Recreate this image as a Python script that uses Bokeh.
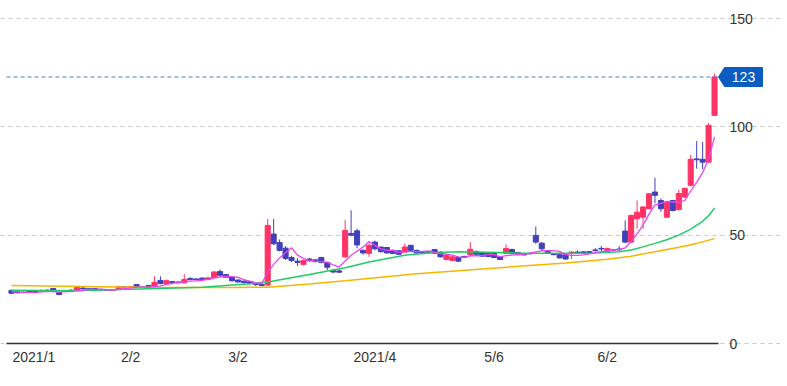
from bokeh.plotting import figure
from bokeh.models import (ColumnDataSource, FixedTicker, Range1d, Label,
                          PolyAnnotation)
from bokeh.embed import file_html
from bokeh.resources import INLINE

# ---------------- data ----------------
opens = [24.5, 23.8, 23.5, 24.2, 24.0, 24.4, 24.6, 25.4, 23.5, 24.3,
         24.6, 24.5, 25.6, 25.3, 25.4, 25.0, 24.8, 24.6, 24.9, 26.2,
         26.0, 27.2, 26.2, 26.8, 26.3, 29.1, 27.7, 28.6, 28.4, 28.0,
         30.0, 29.8, 30.2, 29.5, 30.4, 33.2, 31.8, 30.7, 29.3, 28.8,
         28.5, 27.8, 27.3, 27.0, 50.5, 46.6, 44.0, 39.7, 38.0, 36.5,
         39.0, 38.6, 39.7, 37.4, 33.6, 33.5, 40.0, 50.8, 52.0, 43.0,
         41.6, 46.8, 44.5, 44.3, 43.0, 42.8, 42.2, 45.3, 43.0, 42.2,
         42.4, 43.4, 42.2, 38.8, 38.3, 39.7, 40.2, 41.0, 42.5, 42.0,
         41.5, 41.5, 40.0, 41.6, 43.4, 42.0, 41.3, 41.6, 49.9, 46.3,
         42.5, 41.2, 41.0, 41.0, 41.8, 42.2, 42.3, 42.4, 43.2, 43.9,
         42.0, 43.2, 43.6, 51.9, 46.8, 57.6, 58.3, 62.2, 69.9, 66.0,
         58.3, 66.0, 61.8, 67.6, 73.0, 85.2, 85.0, 83.7, 105.3]
highs = [24.8, 24.0, 24.0, 24.5, 24.3, 25.0, 24.9, 25.6, 24.0, 24.7,
         25.0, 26.2, 26.0, 25.5, 25.6, 25.2, 25.0, 25.0, 26.5, 26.4,
         26.4, 27.4, 26.4, 27.0, 31.0, 31.0, 29.5, 28.8, 28.6, 32.0,
         30.6, 30.0, 30.4, 30.5, 33.5, 34.2, 32.0, 31.0, 29.6, 29.0,
         28.8, 28.0, 27.6, 57.5, 57.5, 48.0, 45.0, 40.5, 39.5, 38.8,
         39.5, 39.0, 40.0, 37.8, 34.5, 34.3, 57.0, 61.5, 53.0, 43.5,
         46.0, 47.5, 44.8, 44.6, 43.3, 43.0, 46.0, 45.6, 43.3, 42.5,
         42.7, 43.6, 42.5, 41.0, 40.4, 40.0, 40.5, 46.8, 42.8, 42.3,
         41.8, 41.7, 40.3, 45.7, 43.8, 42.4, 41.6, 41.9, 54.0, 46.8,
         42.8, 41.5, 41.3, 41.3, 42.5, 43.0, 42.6, 42.7, 44.0, 45.0,
         44.2, 43.5, 45.0, 56.8, 59.5, 66.0, 63.5, 69.5, 76.5, 67.0,
         65.8, 66.3, 71.0, 72.0, 87.0, 93.4, 93.0, 101.8, 124.5]
lows = [23.0, 23.1, 23.2, 23.5, 23.4, 23.8, 24.0, 23.8, 22.3, 24.0,
        24.0, 24.3, 24.8, 24.8, 24.2, 24.4, 24.3, 24.4, 24.8, 25.8,
        25.8, 25.7, 25.8, 25.2, 26.0, 27.3, 27.4, 27.8, 27.8, 27.8,
        29.2, 29.2, 29.2, 29.3, 30.2, 31.0, 30.4, 28.5, 28.0, 27.8,
        27.3, 26.5, 26.3, 26.5, 45.5, 42.5, 38.5, 37.5, 35.8, 36.0,
        37.6, 37.4, 37.0, 33.8, 32.5, 32.5, 39.5, 49.5, 44.0, 41.0,
        40.0, 43.0, 42.0, 41.5, 41.2, 40.8, 42.0, 42.6, 41.5, 41.7,
        41.7, 41.3, 39.7, 38.4, 38.0, 37.6, 39.5, 40.5, 40.8, 40.0,
        39.8, 39.4, 38.5, 41.3, 41.2, 40.7, 40.6, 41.1, 46.0, 43.0,
        41.3, 40.8, 39.2, 38.7, 39.0, 41.5, 41.5, 41.5, 42.5, 42.5,
        41.8, 42.8, 42.2, 46.3, 46.5, 53.0, 53.0, 62.0, 64.8, 60.8,
        58.0, 61.0, 61.5, 67.2, 72.5, 80.7, 80.5, 83.5, 105.0]
closes = [23.2, 23.4, 23.7, 23.8, 23.6, 24.3, 24.2, 24.0, 22.6, 24.5,
          24.3, 25.9, 25.2, 25.0, 24.6, 24.7, 24.5, 24.9, 26.3, 26.0,
          26.2, 25.9, 26.0, 25.4, 28.2, 27.7, 29.0, 28.1, 28.0, 29.5,
          29.5, 29.4, 29.5, 30.3, 33.0, 31.5, 30.6, 29.0, 28.4, 28.1,
          27.8, 27.2, 26.8, 54.5, 46.0, 43.0, 39.3, 38.3, 37.4, 38.3,
          38.2, 37.8, 37.4, 35.2, 33.0, 32.9, 52.2, 50.0, 45.5, 41.8,
          45.3, 43.7, 42.4, 41.8, 41.6, 41.2, 44.5, 43.0, 41.8, 42.0,
          42.0, 41.6, 40.0, 40.6, 40.0, 38.0, 39.8, 43.5, 41.2, 40.3,
          40.2, 39.7, 38.8, 43.8, 41.5, 41.0, 40.9, 41.4, 46.8, 43.7,
          41.6, 41.0, 39.5, 39.0, 42.2, 42.0, 41.8, 41.8, 42.9, 43.6,
          43.9, 43.0, 43.3, 46.8, 59.1, 60.6, 63.0, 69.1, 68.4, 62.2,
          65.3, 61.4, 69.2, 71.6, 85.0, 84.8, 83.7, 100.7, 123.0]
ma5 = [24.0, 23.8, 23.6, 23.6, 23.5, 23.8, 23.9, 24.0, 23.7, 23.9,
       23.9, 24.3, 24.5, 25.0, 25.0, 25.1, 24.8, 24.7, 25.0, 25.3,
       25.6, 25.9, 26.1, 25.9, 26.3, 26.6, 27.3, 27.7, 28.2, 28.5,
       28.8, 28.9, 29.2, 29.6, 30.3, 30.7, 31.0, 30.9, 30.5, 29.5,
       28.8, 28.1, 27.7, 32.9, 36.5, 39.5, 41.9, 44.2, 40.8, 39.3,
       38.3, 38.0, 37.8, 37.4, 36.3, 35.3, 38.1, 40.7, 42.7, 44.5,
       47.0, 45.3, 43.7, 43.0, 43.0, 42.1, 42.3, 42.4, 42.4, 42.5,
       42.7, 42.1, 41.5, 41.2, 40.8, 40.0, 39.7, 40.4, 40.5, 40.6,
       41.0, 41.0, 40.0, 40.6, 40.8, 41.0, 41.2, 41.7, 42.3, 42.8,
       42.9, 42.9, 42.5, 41.0, 40.7, 40.7, 40.9, 41.4, 42.1, 42.4,
       42.8, 43.0, 43.3, 44.1, 47.2, 50.6, 54.6, 59.7, 64.0, 64.7,
       65.6, 65.3, 65.3, 65.9, 70.5, 74.4, 78.9, 85.2, 95.4]
ma25_idx = [0, 10, 20, 32, 40, 43, 50, 56, 60, 66, 70, 75, 80, 86, 92,
            98, 102, 104, 106, 108, 110, 112, 114, 116, 117, 118]
ma25_val = [24.6, 24.3, 25.0, 26.0, 27.6, 28.4, 31.8, 35.0, 37.6, 40.7,
            41.8, 42.3, 42.1, 41.7, 41.6, 41.8, 42.4, 43.2, 44.6, 46.2,
            47.9, 50.0, 52.8, 56.4, 59.0, 62.5]
ma75_idx = [0, 12, 25, 37, 43, 50, 56, 68, 82, 93, 100, 104, 108, 112,
            115, 118]
ma75_val = [26.8, 26.3, 25.9, 25.8, 26.0, 27.5, 29.0, 32.2, 35.0, 37.2,
            38.9, 40.3, 42.3, 44.4, 46.2, 48.4]
tick_idx = [20, 38, 61, 81, 100]
tick_labels = ["2/2", "3/2", "2021/4", "5/6", "6/2"]
first_label = "2021/1"
y_ticks = [0, 50, 100, 150]

# ---------------- styling / layout ----------------
UP = "#ff3366"
DOWN = "#4040bb"
FONT = "Liberation Sans"
TXT = "#333333"
TAG = "#0b5cc0"

W, H = 780, 380
SX = 5.958        # px per candle
SY = 325 / 150    # px per price unit
X0 = 11           # px of first candle
Y0 = 343          # px of price 0
CHART_R = 718     # px where the chart area ends
CHART_L = 6

n = len(closes)
xs = list(range(n))
x_start = -X0 / SX
x_end = x_start + W / SX
y_end = Y0 / SY
y_start = y_end - H / SY
def xd(px):
    return x_start + px / SX
x_right = xd(CHART_R)
x_left = xd(CHART_L)

p = figure(width=W, height=H, output_backend="svg", toolbar_location=None,
           x_range=Range1d(x_start, x_end), y_range=Range1d(y_start, y_end),
           y_axis_location="right", background_fill_color="white",
           border_fill_color="white", outline_line_color=None,
           min_border=0)

# grid
p.xgrid.visible = False
p.ygrid.grid_line_color = "#c8c8c8"
p.ygrid.grid_line_dash = "4 4"
p.ygrid.grid_line_width = 1
p.ygrid.bounds = (x_left, x_right)

# right axis (price)
ya = p.yaxis[0]
ya.fixed_location = x_right
ya.ticker = FixedTicker(ticks=y_ticks)
ya.axis_line_color = None
ya.major_tick_line_color = None
ya.minor_tick_line_color = None
ya.major_tick_out = 0
ya.major_tick_in = 0
ya.major_label_standoff = 11
ya.major_label_text_font = FONT
ya.major_label_text_font_size = "14px"
ya.major_label_text_color = TXT

# bottom axis (dates)
xa = p.xaxis[0]
xa.fixed_location = 0
xa.bounds = (x_left, x_right)
xa.ticker = FixedTicker(ticks=tick_idx)
xa.major_label_overrides = {t: l for t, l in zip(tick_idx, tick_labels)}
xa.axis_line_color = "#2e2e3e"
xa.axis_line_width = 1.3
xa.major_tick_line_color = None
xa.minor_tick_line_color = None
xa.major_tick_out = 0
xa.major_tick_in = 0
xa.major_label_standoff = 5
xa.major_label_text_font = FONT
xa.major_label_text_font_size = "14px"
xa.major_label_text_color = TXT

# candles
src = ColumnDataSource(dict(
    x=xs, h=highs, l=lows,
    top=[max(o, c) for o, c in zip(opens, closes)],
    bottom=[min(o, c) for o, c in zip(opens, closes)],
    color=[UP if c >= o else DOWN for o, c in zip(opens, closes)],
))
p.segment("x", "h", "x", "l", source=src, line_color="color", line_width=1)
p.vbar("x", 0.85, "top", "bottom", source=src, fill_color="color",
       line_color="color", line_width=1)

# moving averages
p.line(ma75_idx, ma75_val, line_color="#f7b500", line_width=1.5)
p.line(ma25_idx, ma25_val, line_color="#20cc66", line_width=1.5)
p.line(xs, ma5, line_color="#ee44ee", line_width=1.3)

# last price line and tag
last = closes[-1]
p.segment(x0=[x_left], y0=[last], x1=[x_right], y1=[last], line_color="#4080d0",
          line_dash="4 3", line_width=1)
hh = 9.5 / SY
tip = x_right
bl = xd(CHART_R + 6)
br = xd(CHART_R + 44)
p.add_layout(PolyAnnotation(xs=[tip, bl, br, br, bl],
                            ys=[last, last + hh, last + hh, last - hh, last - hh],
                            xs_units="data", ys_units="data",
                            fill_color=TAG, fill_alpha=1, line_color=TAG, line_alpha=1))
p.add_layout(Label(x=(bl + br) / 2, y=last, text=f"{last:.0f}", text_align="center",
                   text_baseline="middle", text_font=FONT, text_font_size="14px",
                   text_color="white"))

# first date label (left-aligned so it stays inside the chart)
p.add_layout(Label(x=0, y=0, x_offset=1, y_offset=-5, text=first_label,
                   text_align="left", text_baseline="top",
                   text_font=FONT, text_font_size="14px", text_color=TXT))

open("out.html", "w").write(file_html(p, INLINE))
